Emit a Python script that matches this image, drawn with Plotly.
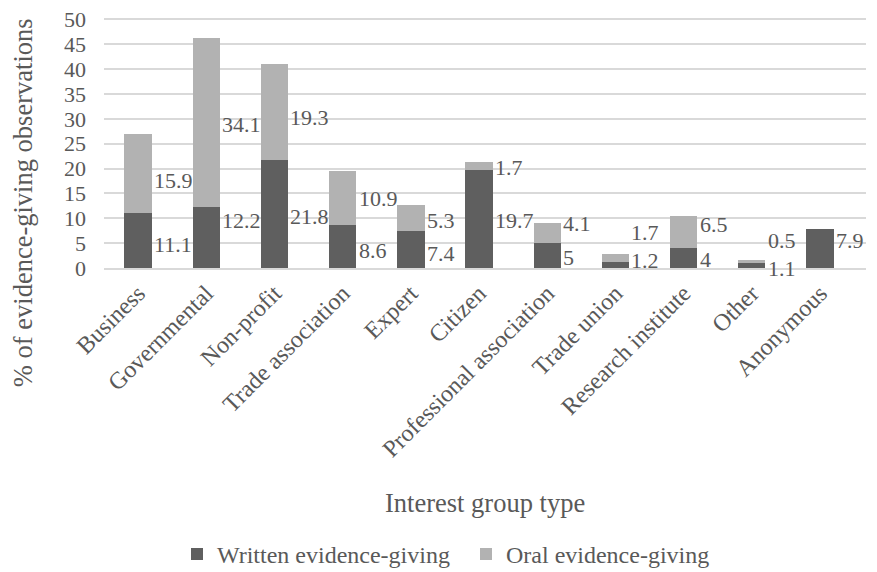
import plotly.graph_objects as go

categories = ["Business", "Governmental", "Non-profit", "Trade association", "Expert",
              "Citizen", "Professional association", "Trade union", "Research institute",
              "Other", "Anonymous"]
written = [11.1, 12.2, 21.8, 8.6, 7.4, 19.7, 5, 1.2, 4, 1.1, 7.9]
oral = [15.9, 34.1, 19.3, 10.9, 5.3, 1.7, 4.1, 1.7, 6.5, 0.5, None]
y_ticks = [0, 5, 10, 15, 20, 25, 30, 35, 40, 45, 50]

# label anchor heights (layout)
label_y_written = [4.8, 9.6, 10.4, 3.6, 3.0, 9.6, 2.2, 1.6, 1.8, 0.0, 5.5]
label_y_oral = [17.7, 28.9, 30.3, 13.9, 9.6, 20.3, 9.0, 7.2, 8.8, 5.6, None]

FONT = "Liberation Serif, Times New Roman, serif"
TXT = "#595959"

f22 = dict(family=FONT, size=22, color=TXT)
f24 = dict(family=FONT, size=24, color=TXT)
f26 = dict(family=FONT, size=26.5, color=TXT)

fig = go.Figure()
fig.add_trace(go.Bar(x=categories, y=written, name="Written evidence-giving",
                     marker=dict(color="#5f5f5f", line=dict(width=0))))
fig.add_trace(go.Bar(x=categories, y=oral, name="Oral evidence-giving",
                     marker=dict(color="#b2b2b2", line=dict(width=0))))

ann = []
for i, c in enumerate(categories):
    ann.append(dict(x=c, y=label_y_written[i], text=str(written[i]), xref="x", yref="y",
                    showarrow=False, xanchor="left", yanchor="middle", xshift=14, font=f22))
    if oral[i] is not None:
        ann.append(dict(x=c, y=label_y_oral[i], text=str(oral[i]), xref="x", yref="y",
                        showarrow=False, xanchor="left", yanchor="middle", xshift=14, font=f22))

PH = 250.5
ann.append(dict(x=0.5, y=-235 / PH, xref="paper", yref="paper", text="Interest group type",
                showarrow=False, xanchor="center", yanchor="middle", font=f26))
ann.append(dict(x=-81 / 762, y=(268 - 203) / PH, xref="paper", yref="paper",
                text="% of evidence-giving observations", textangle=-90,
                showarrow=False, xanchor="center", yanchor="middle", font=f26))

fig.update_layout(
    width=869, height=564,
    barmode="stack", bargap=0.6,
    plot_bgcolor="white", paper_bgcolor="white",
    margin=dict(l=96, r=11, t=9.5, b=304, autoexpand=False),
    font=f22,
    showlegend=True,
    legend=dict(orientation="h", x=(169 - 96) / 762, y=-287 / PH, xanchor="left", yanchor="middle",
                font=f24, traceorder="normal", itemsizing="constant",
                entrywidth=244, entrywidthmode="pixels"),
    annotations=ann,
    xaxis=dict(tickangle=-45, tickfont=f24, automargin=False,
               showline=True, linecolor="#d9d9d9", linewidth=1.5, ticks=""),
    yaxis=dict(range=[0, 50.3], tickvals=y_ticks, showgrid=True, gridcolor="#d9d9d9",
               gridwidth=1.5, zeroline=False, ticks="", automargin=False,
               tickfont=f22, ticklabeloverflow="allow", ticklabelstandoff=17),
)

fig.write_html("out.html")
